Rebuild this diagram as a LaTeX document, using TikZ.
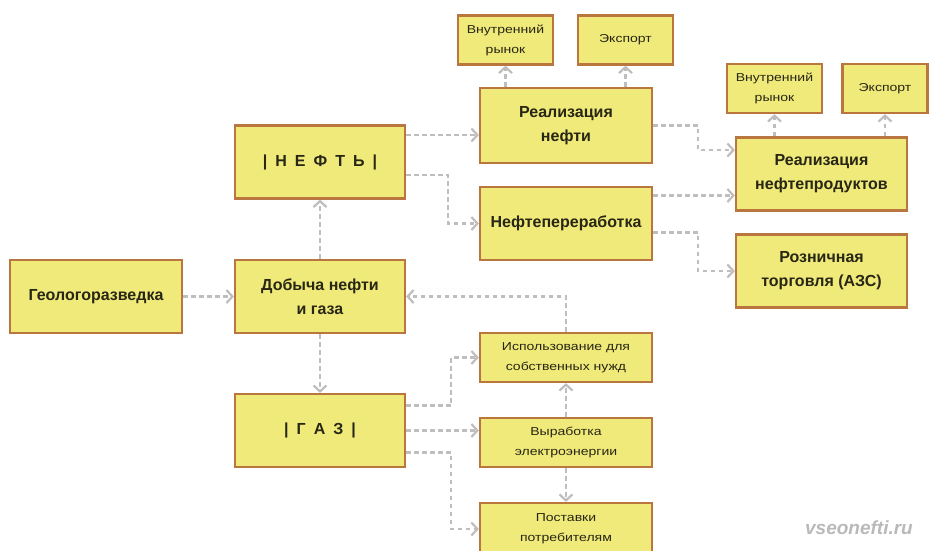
\documentclass[tikz,border=0pt]{standalone}
\usepackage{fontspec}
\setmainfont{Liberation Sans}
\newfontfamily\smallfont[FakeStretch=1.22]{Liberation Sans}
\usetikzlibrary{arrows.meta,positioning}
\definecolor{boxfill}{RGB}{240,234,122}
\definecolor{boxline}{RGB}{185,118,62}
\definecolor{linkgray}{RGB}{190,190,190}
\definecolor{textdark}{RGB}{40,38,20}
\newcommand{\lsp}{\hspace{8pt}}

\begin{document}
\begin{tikzpicture}[x=1pt,y=-1pt,
  mainbox/.style={draw=boxline, fill=boxfill, line width=2.2pt, text=textdark,
    font=\fontsize{16}{24}\selectfont\bfseries, align=center, inner sep=0pt,
    minimum width=170pt, minimum height=73pt},
  subbox/.style={draw=boxline, fill=boxfill, line width=2.2pt, text=textdark,
    font=\smallfont\fontsize{11.5}{20}\selectfont, align=center, inner sep=0pt,
    minimum width=95pt, minimum height=49pt},
  link/.style={draw=linkgray, line width=2.4pt, dash pattern=on 4.5pt off 3.5pt,
    -{Straight Barb[length=6pt,width=13pt,line width=2.2pt]}}]
\clip (0,0) rectangle (930,550);

\node[mainbox, minimum width=172pt] (geo) at (96,296.5) {Геологоразведка};
\node[mainbox] (dob) at (320,296.5) {Добыча нефти\\и газа};
\node[mainbox] (neft) at (320,162) {|\lsp Н\lsp Е\lsp Ф\lsp Т\lsp Ь\lsp|};
\node[mainbox] (gaz) at (320,430.5) {|\lsp Г\lsp А\lsp З\lsp|};
\node[mainbox, minimum width=172pt, minimum height=75pt] (realn) at (566,125.5) {Реализация\\нефти};
\node[mainbox, minimum width=172pt] (pererab) at (566,223.5) {Нефтепереработка};
\node[subbox] (vr1) at (505.5,40) {Внутренний\\рынок};
\node[subbox] (exp1) at (625.5,40) {Экспорт};
\node[subbox] (vr2) at (774.5,88.5) {Внутренний\\рынок};
\node[subbox, minimum width=85pt] (exp2) at (885,88.5) {Экспорт};
\node[mainbox, minimum width=171pt] (realnp) at (821.5,174) {Реализация\\нефтепродуктов};
\node[mainbox, minimum width=171pt] (rozn) at (821.5,271) {Розничная\\торговля (АЗС)};
\node[subbox, minimum width=172pt] (isp) at (566,357.5) {Использование для\\собственных нужд};
\node[subbox, minimum width=172pt] (vyr) at (566,442.5) {Выработка\\электроэнергии};
\node[subbox, minimum width=172pt, minimum height=52pt] (post) at (566,529) {Поставки\\потребителям};
\node[font=\bfseries\itshape\fontsize{19}{19}\selectfont, text=gray!55] (site) at (859,528) {vseonefti.ru};

% oil branch
\draw[link] (geo) -- (dob);
\draw[link] (dob) -- (neft);
\draw[link] (dob) -- (gaz);
\draw[link] ([yshift=27pt]neft.east) -- ([yshift=27pt]neft.east -| realn.west);
\draw[link] ([yshift=-13pt]neft.east) -- ++(42,0) |- (pererab.west);
\draw[link] (realn.east) -- ++(45,0) |- ([yshift=24pt]realnp.west);
\draw[link] ([yshift=28pt]pererab.east) -- ([yshift=28pt]pererab.east -| realnp.west);
\draw[link] ([yshift=-9pt]pererab.east) -- ++(45,0) |- (rozn.west);
\draw[link] (realn.north -| vr1.south) -- (vr1.south);
\draw[link] (realn.north -| exp1.south) -- (exp1.south);
\draw[link] (realnp.north -| vr2.south) -- (vr2.south);
\draw[link] (realnp.north -| exp2.south) -- (exp2.south);

% gas branch
\draw[link] (isp.north) |- (dob.east);
\draw[link] ([yshift=25pt]gaz.east) -- ++(45,0) |- (isp.west);
\draw[link] (gaz.east) -- (gaz.east -| vyr.west);
\draw[link] ([yshift=-22pt]gaz.east) -- ++(45,0) |- (post.west);
\draw[link] (vyr.north) -- (isp.south);
\draw[link] (vyr.south) -- (post.north);
\end{tikzpicture}
\end{document}
